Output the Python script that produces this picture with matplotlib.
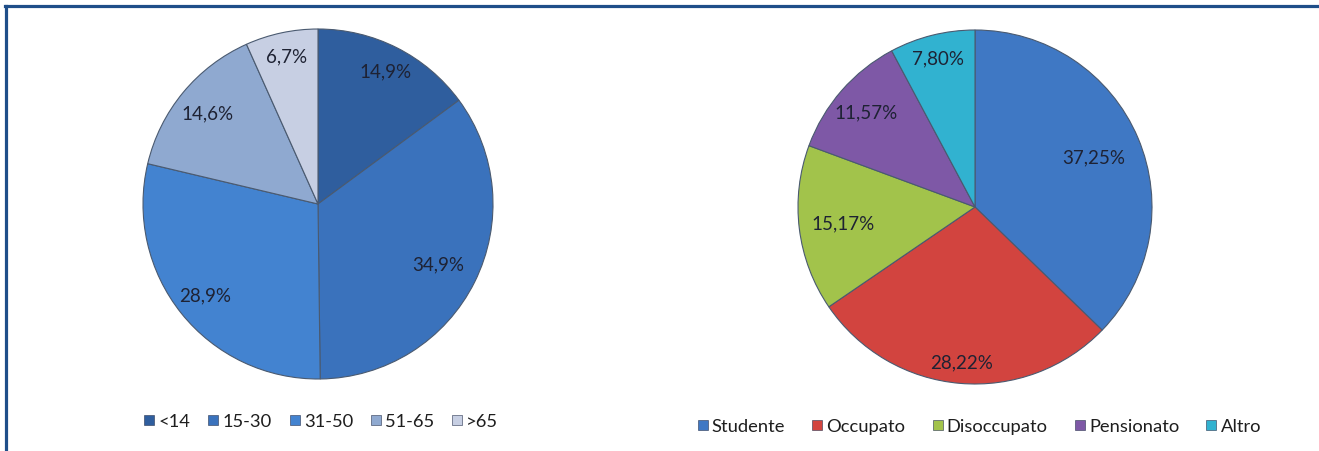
import matplotlib.pyplot as plt
import numpy as np
from matplotlib.lines import Line2D

plt.rcParams['font.family'] = ['Lato', 'DejaVu Sans']

# Age groups
age_labels = ["<14", "15-30", "31-50", "51-65", ">65"]
age_values = [14.9, 34.9, 28.9, 14.6, 6.7]
age_text = ["14,9%", "34,9%", "28,9%", "14,6%", "6,7%"]
age_colors = ["#2F5E9E", "#3A72BC", "#4383D0", "#8FA9D0", "#C7CFE3"]

# Occupation
job_labels = ["Studente", "Occupato", "Disoccupato", "Pensionato", "Altro"]
job_values = [37.25, 28.22, 15.17, 11.57, 7.80]
job_text = ["37,25%", "28,22%", "15,17%", "11,57%", "7,80%"]
job_colors = ["#3F78C4", "#D2443F", "#A2C34B", "#7E58A6", "#31B2D0"]

# radial position of each value label (fraction of radius)
age_label_r = [0.85, 0.77, 0.83, 0.82, 0.865]
job_label_r = [0.73, 0.88, 0.75, 0.82, 0.87]

W, H = 1319, 452
fig = plt.figure(figsize=(W / 100, H / 100), dpi=100)
fig.patch.set_facecolor("white")


def draw_pie(cx, cy, r, values, colors, texts, label_r):
    ax = fig.add_axes([(cx - r) / W, (H - cy - r) / H, 2 * r / W, 2 * r / H])
    wedges, _ = ax.pie(values, colors=colors, startangle=90, counterclock=False,
                       radius=1.0,
                       wedgeprops=dict(edgecolor="#4A5A70", linewidth=0.8))
    for w, t, d in zip(wedges, texts, label_r):
        ang = np.deg2rad((w.theta1 + w.theta2) / 2)
        ax.text(d * np.cos(ang), d * np.sin(ang), t, ha="center", va="center",
                fontsize=13.5, color="#1E2233")
    ax.set_xlim(-1, 1)
    ax.set_ylim(-1, 1)
    ax.set_aspect("equal")
    ax.axis("off")
    return wedges


def draw_legend(labels, colors, x, y, spacing):
    handles = [Line2D([], [], marker="s", linestyle="none", markersize=7.5,
                      markerfacecolor=c, markeredgecolor="#2A3550",
                      markeredgewidth=0.4) for c in colors]
    fig.legend(handles, labels, loc="center", bbox_to_anchor=(x / W, 1 - y / H),
               ncol=len(labels), frameon=False, fontsize=13.2,
               handlelength=0.6, handletextpad=0.2, columnspacing=spacing,
               labelcolor="#1E1E1E")


draw_pie(318, 205, 175, age_values, age_colors, age_text, age_label_r)
draw_pie(975, 208, 177, job_values, job_colors, job_text, job_label_r)

draw_legend(age_labels, age_colors, 321, 422, 0.95)
draw_legend(job_labels, job_colors, 979, 427, 1.45)

# frame lines on the top and left side
fig.add_artist(Line2D([6 / W, 6 / W], [0, 1 - 7 / H], color="#1F4E89",
                      linewidth=2.3, transform=fig.transFigure))
fig.add_artist(Line2D([5 / W, 1], [1 - 7 / H, 1 - 7 / H], color="#1F4E89",
                      linewidth=2.3, transform=fig.transFigure))

fig.savefig("out.png", dpi=100, facecolor="white")
